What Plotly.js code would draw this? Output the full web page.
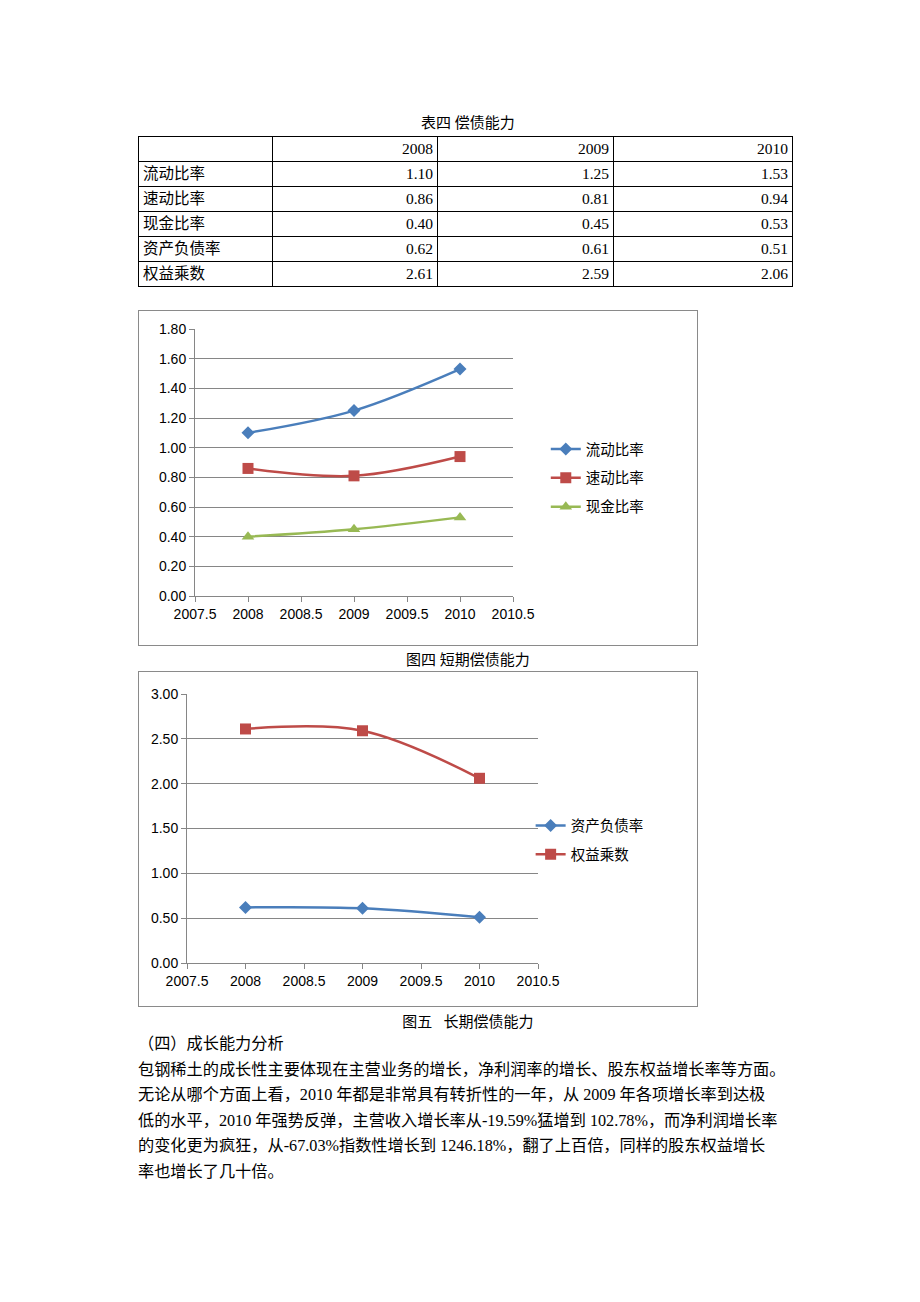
<!DOCTYPE html>
<html>
<head>
<meta charset="utf-8">
<script src="https://cdn.plot.ly/plotly-3.0.1.min.js"></script>
<style>
  html, body { margin:0; padding:0; background:#fff; }
  body { width:920px; height:1302px; position:relative; overflow:hidden;
         font-family:"Liberation Serif","Noto Sans CJK SC",serif; color:#000; }
  .cap { position:absolute; left:0; width:936px; text-align:center; font-size:15px; line-height:20px; }
  table { position:absolute; left:138px; top:136px; border-collapse:collapse; font-size:15.5px; }
  td { border:1px solid #000; padding:0 4px; height:24px; line-height:20px; }
  td.num { text-align:right; }
  .box { position:absolute; left:138px; width:560px; height:336px; box-sizing:border-box; border:1px solid #8a8a8a; }
  .chart { width:558px; height:334px; }
  #para { position:absolute; left:138px; top:1032px; font-size:16.2px; line-height:25.5px; white-space:nowrap; }
</style>
</head>
<body>
<div class="cap" style="top:113px;">表四&nbsp;偿债能力</div>
<table id="tbl"></table>

<div class="box" style="top:310px;"><div id="c1" class="chart"></div></div>
<div class="cap" style="top:650px;">图四&nbsp;短期偿债能力</div>

<div class="box" style="top:671px;"><div id="c2" class="chart"></div></div>
<div class="cap" style="top:1012px;">图五&nbsp;&nbsp;&nbsp;长期偿债能力</div>

<div id="para">（四）成长能力分析<br>包钢稀土的成长性主要体现在主营业务的增长，净利润率的增长、股东权益增长率等方面。<br>无论从哪个方面上看，2010 年都是非常具有转折性的一年，从 2009 年各项增长率到达极<br>低的水平，2010 年强势反弹，主营收入增长率从-19.59%猛增到 102.78%，而净利润增长率<br>的变化更为疯狂，从-67.03%指数性增长到 1246.18%，翻了上百倍，同样的股东权益增长<br>率也增长了几十倍。</div>

<script>
const years = [2008, 2009, 2010];
const rowLabels = ['流动比率', '速动比率', '现金比率', '资产负债率', '权益乘数'];
const currentRatio = [1.10, 1.25, 1.53];
const quickRatio = [0.86, 0.81, 0.94];
const cashRatio = [0.40, 0.45, 0.53];
const debtRatio = [0.62, 0.61, 0.51];
const equityMultiplier = [2.61, 2.59, 2.06];
const rowValues = [currentRatio, quickRatio, cashRatio, debtRatio, equityMultiplier];

// table
const colW = [134, 165, 176, 179];
const tbl = document.getElementById('tbl');
let html = '<tr>';
html += '<td style="width:' + (colW[0]-9) + 'px"></td>';
years.forEach((y, i) => { html += '<td class="num" style="width:' + (colW[i+1]-9) + 'px">' + y + '</td>'; });
html += '</tr>';
rowLabels.forEach((lab, r) => {
  html += '<tr><td>' + lab + '</td>';
  rowValues[r].forEach(v => { html += '<td class="num">' + v.toFixed(2) + '</td>'; });
  html += '</tr>';
});
tbl.innerHTML = html;

const C_BLUE = '#4A7EBB', C_RED = '#BE4B48', C_GREEN = '#98B954';
const tickFont = {family:'Liberation Sans, Arial, sans-serif', size:14, color:'#000'};

function axisX() {
  return {range:[2007.5, 2010.5], dtick:0.5, tick0:2007.5, tickformat:'.1~f', showgrid:false, zeroline:false,
          showline:true, linecolor:'#868686', linewidth:1, ticks:'outside', ticklen:5,
          tickcolor:'#868686', tickfont:tickFont, fixedrange:true};
}
function axisY(max, dt) {
  return {range:[0, max], dtick:dt, tickformat:'.2f', showgrid:true, gridcolor:'#868686', gridwidth:1,
          zeroline:false, showline:true, linecolor:'#868686', linewidth:1, ticks:'outside', ticklen:5,
          tickcolor:'#868686', tickfont:tickFont, fixedrange:true};
}
function tr(name, y, color, symbol, size) {
  return {x:years, y:y, name:name, legendgroup:name, type:'scatter', mode:'lines+markers',
          line:{color:color, width:2.5, shape:'spline', smoothing:1},
          marker:{color:color, symbol:symbol, size:size}};
}
const legendFont = {family:'Noto Sans CJK SC, sans-serif', size:14.5, color:'#000'};

Plotly.newPlot('c1', [
  tr(rowLabels[0], currentRatio, C_BLUE, 'diamond', 10),
  tr(rowLabels[1], quickRatio, C_RED, 'square', 11),
  tr(rowLabels[2], cashRatio, C_GREEN, 'triangle-up', 11)
], {
  width:558, height:334, margin:{l:56, r:184, t:18, b:49},
  paper_bgcolor:'#fff', plot_bgcolor:'#fff',
  xaxis:axisX(), yaxis:axisY(1.8, 0.2),
  showlegend:true,
  legend:{xref:'container', yref:'container', x:0.729, y:0.5, xanchor:'left', yanchor:'middle',
          font:legendFont, bgcolor:'rgba(0,0,0,0)', tracegroupgap:7}
}, {staticPlot:true});

Plotly.newPlot('c2', [
  tr(rowLabels[3], debtRatio, C_BLUE, 'diamond', 10),
  tr(rowLabels[4], equityMultiplier, C_RED, 'square', 11)
], {
  width:558, height:334, margin:{l:48, r:159, t:22, b:43},
  paper_bgcolor:'#fff', plot_bgcolor:'#fff',
  xaxis:axisX(), yaxis:axisY(3, 0.5),
  showlegend:true,
  legend:{xref:'paper', yref:'paper', x:0.979, y:0.457, xanchor:'left', yanchor:'middle',
          font:legendFont, bgcolor:'rgba(0,0,0,0)', tracegroupgap:7}
}, {staticPlot:true});
</script>
</body>
</html>
